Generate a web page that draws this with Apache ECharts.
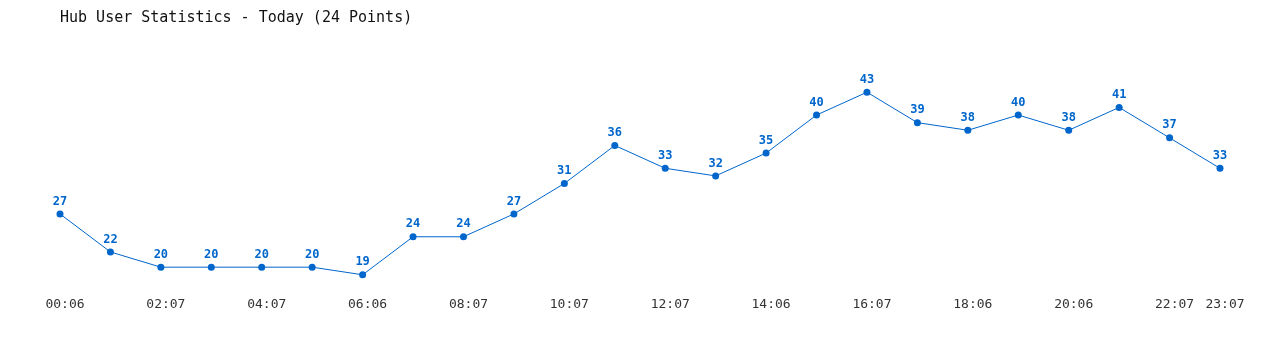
<!DOCTYPE html>
<html>
<head>
<meta charset="utf-8">
<script src="https://cdn.jsdelivr.net/npm/echarts@6/dist/echarts.min.js"></script>
<style>html,body{margin:0;padding:0;background:#fff}#c{width:1280px;height:350px}</style>
</head>
<body>
<div id="c"></div>
<script>
const categories = ["00:06","01:07","02:07","03:07","04:07","05:06","06:06","07:07","08:07","09:07","10:07","11:07","12:07","13:06","14:06","15:07","16:07","17:06","18:06","19:06","20:06","21:07","22:07","23:07"];
const users = [27,22,20,20,20,20,19,24,24,27,31,36,33,32,35,40,43,39,38,40,38,41,37,33];
const titleText = "Hub User Statistics - Today (24 Points)";

const mono = "'DejaVu Sans Mono', 'Liberation Mono', monospace";
const chart = echarts.init(document.getElementById('c'), null, {renderer: 'canvas'});
const minV = Math.min(...users) - 2, maxV = Math.max(...users) + 2;
chart.setOption({
  animation: false,
  backgroundColor: '#ffffff',
  title: {
    text: titleText,
    left: 55, top: 6,
    textStyle: {fontFamily: mono, fontSize: 15, fontWeight: 'normal', color: '#111'}
  },
  grid: {left: 60, right: 60, top: 77, bottom: 60},
  xAxis: {
    type: 'category',
    data: categories,
    boundaryGap: false,
    axisLine: {show: false},
    axisTick: {show: false},
    splitLine: {show: false},
    axisLabel: {
      interval: (i) => i % 2 === 0 || i === categories.length - 1,
      fontFamily: mono, fontSize: 13, color: '#333',
      margin: 8, padding: [0, 0, 0, 10]
    }
  },
  yAxis: {
    type: 'value', min: minV, max: maxV,
    show: false,
    splitLine: {show: false}
  },
  series: [{
    type: 'line',
    data: users,
    symbol: 'circle',
    symbolSize: 7,
    lineStyle: {color: '#0066cc', width: 1},
    itemStyle: {color: '#0066cc'},
    label: {
      show: true, position: 'top', distance: 3,
      fontFamily: mono, fontSize: 12, fontWeight: 'bold', color: '#0066cc'
    }
  }]
});
</script>
</body>
</html>
